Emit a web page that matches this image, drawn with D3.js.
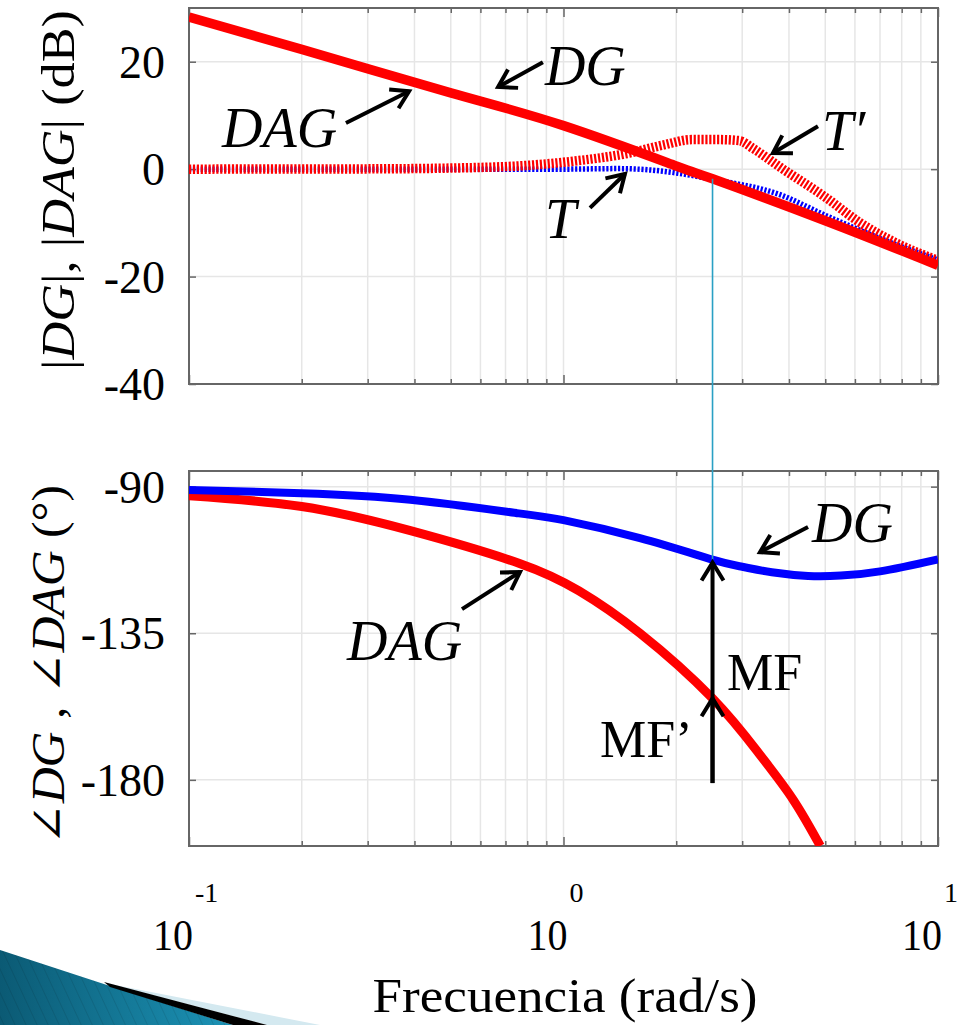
<!DOCTYPE html>
<html>
<head>
<meta charset="utf-8">
<script src="https://cdn.jsdelivr.net/npm/d3@7"></script>
<style>
  body { margin: 0; background: #fff; }
  svg { display: block; }
  text { font-family: "Liberation Serif", "DejaVu Serif", serif; fill: #000; }
</style>
</head>
<body>
<svg id="bode"></svg>
<script>
// ---- data ----
const magFreq = [0.1, 0.2, 0.5, 1, 2, 2.5, 5, 10];
const magDG   = [28.3, 22.3, 14.2, 8.1, 0.6, -1.8, -9.6, -17.9];   // |DG| = |DAG|

const tFreq = [0.1, 0.5, 1, 1.4, 2, 2.5, 3.8, 5, 7, 10];
const magT  = [0, 0, 0, 0.1, -0.7, -1.9, -4.8, -8.6, -12.9, -16.9];

const tpFreq = [0.1, 0.3, 0.5, 0.8, 1.1, 1.5, 1.85, 2.2, 2.6, 2.95, 3.2, 3.8, 5, 6.2, 7.6, 10];
const magTp  = [0, 0.05, 0.2, 0.7, 1.6, 3.0, 4.5, 5.5, 5.5, 5.3, 3.9, 0.3, -5.2, -10, -13.5, -17];

const phFreq = [0.1, 0.2, 0.39, 0.76, 1, 1.6, 2.5, 3, 3.6, 4.5, 5.5, 7, 10];
const phDG   = [-91, -92, -94, -98.2, -100.3, -105.8, -112.4, -114.6, -116.3, -117.4, -117.3, -116, -112.3];

const phaFreq = [0.1, 0.2, 0.39, 0.76, 1.1, 1.6, 2.5, 3.33, 4.1, 4.85];
const phDAG   = [-92.8, -96.1, -103.5, -113.5, -122, -135, -155, -172, -186, -200.3];

const wc = 2.5;                 // crossover marked by the cyan line
const magTicks = [-40, -20, 0, 20];
const phaseTicks = [-180, -135, -90];
const decades = [0.1, 1, 10];
const decadeExp = ["-1", "0", "1"];

// annotation text: panel, label, italic, freq, value (baseline start)
const notes = [
  ["mag", "DG", true, 0.892, 15.7],
  ["mag", "DAG", true, 0.1225, 4.1],
  ["mag", "T\u2032", true, 4.9, 3.6],
  ["mag", "T", true, 0.892, -12.8],
  ["ph", "DG", true, 4.608, -107.0],
  ["ph", "DAG", true, 0.2642, -143.2],
  ["ph", "MF", false, 2.733, -152.4],
  ["ph", "MF\u2019", false, 1.252, -173.0]
];
// annotation arrows: panel, tail freq, tail value, tip freq, tip value
const arrows = [
  ["mag", 0.881, 19.9, 0.669, 15.3],
  ["mag", 0.2625, 8.6, 0.387, 14.5],
  ["mag", 4.781, 8.0, 3.625, 3.0],
  ["mag", 1.177, -7.2, 1.459, -0.9],
  ["ph", 4.497, -102.4, 3.347, -110.1],
  ["ph", 0.5358, -127.6, 0.7653, -116.2]
];

const W = 966, H = 1025;
const svg = d3.select("#bode").attr("width", W).attr("height", H);

const x = d3.scaleLog().domain([0.1, 10]).range([189, 938]);
const yMag = d3.scaleLinear().domain([-40, 30]).range([384, 8]);
const yPh = d3.scaleLinear().domain([-200.3, -85.2]).range([846, 471]);
const ys = {mag: yMag, ph: yPh};

const xTicks = x.ticks();
const isDecade = d => Math.abs(Math.log10(d) - Math.round(Math.log10(d))) < 1e-6;

const defs = svg.append("defs");

function panel(y, ticks, id) {
  const [yb, yt] = y.range();
  const [xl, xr] = x.range();
  defs.append("clipPath").attr("id", id)
    .append("rect").attr("x", xl).attr("y", yt).attr("width", xr - xl).attr("height", yb - yt);

  const g = svg.append("g");
  g.append("g").selectAll("line")
    .data(xTicks.filter(d => d > 0.1 && d < 10))
    .join("line")
    .attr("x1", d => x(d)).attr("x2", d => x(d))
    .attr("y1", yt).attr("y2", yb)
    .attr("stroke", "#e6e6e6").attr("stroke-width", 1.5);
  g.append("g").selectAll("line")
    .data(ticks)
    .join("line")
    .attr("x1", xl).attr("x2", xr)
    .attr("y1", d => y(d)).attr("y2", d => y(d))
    .attr("stroke", "#e6e6e6").attr("stroke-width", 1.5);

  const ax = svg.append("g").attr("class", "axes");
  ax.append("g").attr("transform", `translate(0,${yb})`)
    .call(d3.axisBottom(x).tickValues(xTicks).tickSize(-5).tickSizeOuter(0).tickFormat(""));
  ax.append("g").attr("transform", `translate(0,${yt})`)
    .call(d3.axisTop(x).tickValues(xTicks).tickSize(-5).tickSizeOuter(0).tickFormat(""));
  ax.append("g").attr("transform", `translate(${xr},0)`)
    .call(d3.axisRight(y).tickValues(ticks).tickSize(-7).tickSizeOuter(0).tickFormat(""));
  ax.append("g").attr("transform", `translate(${xl},0)`)
    .call(d3.axisLeft(y).tickValues(ticks).tickSize(-7).tickSizeOuter(0).tickPadding(24)
      .tickFormat(d => String(d)));
  ax.selectAll(".domain").remove();
  ax.selectAll(".tick line").attr("stroke", "#666").attr("stroke-width", 1.5);
  ax.selectAll("g").filter(function () { return this.parentNode === ax.node(); })
    .each(function (_, i) {
      if (i < 2) d3.select(this).selectAll(".tick line")
        .attr("y2", d => (isDecade(d) ? 9 : 5) * (i === 0 ? -1 : 1));
    });
  ax.selectAll(".tick text")
    .attr("font-family", "'Liberation Serif', serif")
    .attr("font-size", 46).attr("fill", "#000").attr("dy", "0.34em");
  ax.append("rect").attr("x", xl).attr("y", yt).attr("width", xr - xl).attr("height", yb - yt)
    .attr("fill", "none").attr("stroke", "#666").attr("stroke-width", 2);
  return g;
}

panel(yMag, magTicks, "clipMag");
panel(yPh, phaseTicks, "clipPh");

function curve(y, fs, vs, clip, color, width, dash, shape) {
  const line = d3.line().x(d => x(d[0])).y(d => y(d[1])).curve(shape || d3.curveMonotoneX);
  svg.append("path")
    .datum(d3.zip(fs, vs))
    .attr("clip-path", `url(#${clip})`)
    .attr("d", line)
    .attr("fill", "none")
    .attr("stroke", color)
    .attr("stroke-width", width)
    .attr("stroke-dasharray", dash || null)
    .attr("stroke-linejoin", "round");
}

curve(yMag, tFreq, magT, "clipMag", "#0000ff", 5.5, "2.2,1.7");
curve(yMag, tpFreq, magTp, "clipMag", "#ff0000", 9.5, "2.2,1.7");
curve(yMag, magFreq, magDG, "clipMag", "#ff0000", 9.5, null, d3.curveNatural);
curve(yPh, phaFreq, phDAG, "clipPh", "#ff0000", 9, null, d3.curveNatural);
curve(yPh, phFreq, phDG, "clipPh", "#0000ff", 8, null, d3.curveNatural);

// cyan crossover line
const magAtWc = magDG[magFreq.indexOf(wc)];
const phDGAtWc = phDG[phFreq.indexOf(wc)];
const phDAGAtWc = phDAG[phaFreq.indexOf(wc)];
svg.append("line")
  .attr("x1", x(wc)).attr("x2", x(wc))
  .attr("y1", yMag(magAtWc)).attr("y2", yPh(phDGAtWc))
  .attr("stroke", "#2aa0c4").attr("stroke-width", 1.6);

// arrows
function arrow(x1, y1, x2, y2, len) {
  const a = Math.atan2(y2 - y1, x2 - x1);
  const g = svg.append("g").attr("stroke", "#000").attr("stroke-width", 4)
    .attr("fill", "none").attr("stroke-linecap", "butt");
  g.append("line").attr("x1", x1).attr("y1", y1).attr("x2", x2).attr("y2", y2);
  const p = [-1, 1].map(s => {
    const b = a + Math.PI + s * 0.55;
    return [x2 + len * Math.cos(b), y2 + len * Math.sin(b)];
  });
  g.append("path").attr("d", `M${p[0]}L${x2},${y2}L${p[1]}`).attr("stroke-linejoin", "miter");
}
arrows.forEach(([p, f1, v1, f2, v2]) => arrow(x(f1), ys[p](v1), x(f2), ys[p](v2), 20));

// MF / MF' vertical arrow
arrow(x(wc), yPh(-181), x(wc), yPh(phDGAtWc) + 3, 21);
arrow(x(wc), yPh(-181), x(wc), yPh(phDAGAtWc), 21);

notes.forEach(([p, t, it, f, v]) => {
  svg.append("text")
    .attr("x", x(f)).attr("y", ys[p](v))
    .attr("font-size", it ? 56 : 52)
    .attr("font-style", it ? "italic" : "normal")
    .text(t);
});

// x tick labels 10^n
const xl = svg.append("g");
decades.forEach((d, i) => {
  xl.append("text").attr("x", x(d) + 4).attr("y", 950)
    .attr("text-anchor", "end").attr("font-size", 44)
    .attr("textLength", 40).attr("lengthAdjust", "spacingAndGlyphs").text("10");
  xl.append("text").attr("x", x(d) + 6).attr("y", 902)
    .attr("font-size", 28).text(decadeExp[i]);
});

svg.append("text").attr("x", 565).attr("y", 1012)
  .attr("text-anchor", "middle").attr("font-size", 48)
  .attr("textLength", 385).attr("lengthAdjust", "spacingAndGlyphs")
  .text("Frecuencia (rad/s)");

// y axis titles
const t1 = svg.append("text")
  .attr("transform", "translate(58,190) rotate(-90)")
  .attr("text-anchor", "middle").attr("dominant-baseline", "central")
  .attr("font-size", 46).attr("textLength", 360).attr("lengthAdjust", "spacingAndGlyphs");
[["|", 0], ["DG", 1], ["|, |", 0], ["DAG", 1], ["| (dB)", 0]].forEach(([s, it]) =>
  t1.append("tspan").attr("font-style", it ? "italic" : "normal").text(s));

const t2 = svg.append("text")
  .attr("transform", "translate(48,665) rotate(-90)")
  .attr("text-anchor", "middle").attr("dominant-baseline", "central")
  .attr("font-size", 46).attr("textLength", 360).attr("lengthAdjust", "spacingAndGlyphs");
[["\u2220", 0], ["DG", 1], [" , \u2220", 0], ["DAG", 1], [" (\u00b0)", 0]].forEach(([s, it]) =>
  t2.append("tspan").attr("font-style", it ? "italic" : "normal").text(s));

// slide decoration, bottom left
const teal = defs.append("linearGradient").attr("id", "teal");
teal.append("stop").attr("offset", 0).attr("stop-color", "#0b5a74");
teal.append("stop").attr("offset", 1).attr("stop-color", "#1c93b6");
const stripes = defs.append("pattern").attr("id", "stripes")
  .attr("width", 10).attr("height", 10).attr("patternUnits", "userSpaceOnUse")
  .attr("patternTransform", "rotate(-25)");
stripes.append("line").attr("x1", 0).attr("y1", 0).attr("x2", 0).attr("y2", 10)
  .attr("stroke", "#000").attr("stroke-opacity", 0.12).attr("stroke-width", 1.5);

svg.append("polygon").attr("points", "110,984 320,1025 267,1025").attr("fill", "#d4e9f0");
svg.append("polygon").attr("points", "0,950 110,986 233,1025 0,1025").attr("fill", "url(#teal)");
svg.append("polygon").attr("points", "0,950 110,986 233,1025 0,1025").attr("fill", "url(#stripes)");
svg.append("polygon").attr("points", "104,982 267,1025 233,1025 110,987").attr("fill", "#000");
</script>
</body>
</html>
